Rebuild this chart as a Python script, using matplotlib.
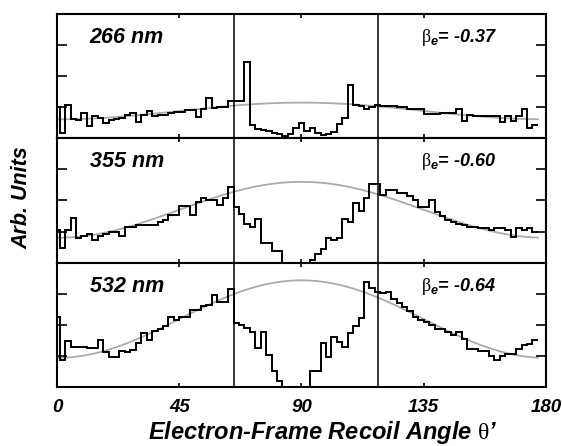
import numpy as np
import matplotlib
matplotlib.use("Agg")
import matplotlib.pyplot as plt

# three panels of photofragment recoil-angle histograms (2 deg bins centred on 0,2,...,176)
wavelengths = ["266 nm", "355 nm", "532 nm"]
betas = [-0.37, -0.60, -0.64]
fit_amp = [0.97, 2.0, 2.6]
cut_angles = [65, 118]
tick_vals = [0, 45, 90, 135, 180]
tick_labels = ["0", "45", "90", "135", "180"]

counts_266 = [1.00, 0.17, 1.06, 0.61, 0.60, 0.80, 0.39, 0.72, 0.65, 0.50, 0.60, 0.62,
              0.66, 0.76, 0.82, 0.52, 0.76, 0.88, 0.73, 0.74, 0.76, 0.80, 0.84, 0.84,
              0.90, 0.92, 0.70, 0.95, 1.29, 0.97, 1.00, 1.00, 1.20, 1.20, 1.20,
              2.47, 0.44, 0.30, 0.28, 0.25, 0.18, 0.15, 0.07, 0.15, 0.33, 0.50, 0.23,
              0.33, 0.17, 0.10, 0.15, 0.20, 0.45, 0.66, 1.72,
              1.06, 1.04, 0.93, 1.02, 1.08, 1.05, 1.04, 1.04, 1.02, 1.02, 0.95, 0.95,
              0.95, 0.77, 0.77, 0.77, 0.80, 0.82, 0.82, 0.93, 0.55, 0.74, 0.72, 0.72,
              0.72, 0.72, 0.72, 0.52, 0.72, 0.55, 0.72, 0.93, 0.34, 0.44]

counts_355 = [1.04, 0.48, 1.04, 1.45, 0.80, 0.85, 0.92, 0.72, 0.85, 0.93, 0.98, 1.00,
              0.85, 1.15, 1.15, 1.20, 1.20, 1.20, 1.22, 1.30, 1.37, 1.53, 1.53, 1.82,
              1.82, 1.53, 1.96, 2.07, 2.02, 2.02, 1.85, 2.07, 2.42,
              1.80, 1.58, 1.24, 1.15, 1.42, 0.64, 0.64, 0.37, 0.37, 0.0, 0.0, 0.0,
              0.0, 0.0, 0.10,
              0.28, 0.45, 0.80, 0.74, 0.80, 1.42, 1.31, 1.93, 1.67, 2.07, 2.54, 2.54,
              2.18, 2.34, 2.34, 2.23, 2.23, 2.15, 2.00, 1.80, 1.78, 2.00, 1.64, 1.50,
              1.37, 1.30, 1.25, 1.22, 1.15, 1.15, 1.12, 1.10, 1.05, 1.12, 1.10, 1.05,
              0.82, 1.12, 1.05, 1.12, 0.98]

counts_532 = [2.26, 0.88, 1.49, 1.28, 1.28, 1.28, 1.26, 1.26, 1.52, 1.14, 0.96, 0.96,
              1.15, 1.12, 1.20, 1.40, 1.75, 1.50, 1.80, 1.85, 1.96, 2.26, 2.14, 2.26,
              2.26, 2.48, 2.48, 2.60, 2.64, 2.96, 2.75, 2.75, 3.14,
              2.05, 2.00, 1.89, 1.78, 1.25, 1.78, 1.04, 0.50, 0.18, 0.0, 0.0, 0.0,
              0.0, 0.0, 0.50, 0.50, 1.43, 0.98, 1.60, 1.46, 1.30, 1.73, 1.96, 2.21,
              3.38, 3.20,
              3.06, 3.01, 3.05, 2.82, 2.70, 2.56, 2.45, 2.26, 2.15, 2.10, 2.00, 1.86,
              1.86, 1.78, 1.68, 1.78, 1.53, 1.22, 1.22, 1.15, 1.15, 1.00, 0.88, 1.00,
              1.07, 1.07, 1.22, 1.34, 1.39, 1.52]

all_counts = [counts_266, counts_355, counts_532]
bin_edges = np.arange(-1, 179, 2)

plt.rcParams['mathtext.fontset'] = 'custom'
plt.rcParams['mathtext.rm'] = 'Liberation Serif'
plt.rcParams['mathtext.it'] = 'Liberation Sans:bold:italic'
bold_font = ['Liberation Sans', 'DejaVu Sans']

fig, axes = plt.subplots(3, 1, sharex=True, figsize=(5.62, 4.46), dpi=100)
fig.subplots_adjust(left=0.1014, right=0.9715, top=0.9686, bottom=0.1323, hspace=0)

for ax, lab, beta, amp, counts in zip(axes, wavelengths, betas, fit_amp, all_counts):
    # fitted anisotropy curve  I ~ 1 + beta P2(cos theta)
    th = np.linspace(0, 177, 300)
    c = np.cos(np.radians(th))
    ax.plot(th, amp * (1 + beta * 0.5 * (3 * c**2 - 1)), color='#ababab', lw=1.3, zorder=1)
    ax.stairs(counts, bin_edges, baseline=None, color='black', lw=1.4, zorder=2)
    for a in cut_angles:
        ax.axvline(a, color='black', lw=1.1, zorder=3)

    ax.set_xlim(0, 180)
    ax.set_ylim(0, 4)
    ax.set_yticks([1, 2, 3])
    ax.set_yticklabels([])
    ax.set_xticks(tick_vals)
    ax.tick_params(axis='y', direction='in', length=7, width=1.2, left=True, right=True)
    ax.tick_params(axis='x', direction='in', length=3, width=1.2, top=True, bottom=True)
    for sp in ax.spines.values():
        sp.set_linewidth(1.5)

    ax.text(0.067, 0.81, lab, transform=ax.transAxes, fontsize=15.5, fontweight='bold',
            fontstyle='italic', family=bold_font, va='center', ha='left')
    ax.text(0.745, 0.81, r'$\mathrm{\beta}_{\mathit{e}}$= %.2f' % beta, transform=ax.transAxes,
            fontsize=13, fontweight='bold', fontstyle='italic', family=bold_font,
            va='center', ha='left')

axes[2].set_xticklabels(tick_labels, fontsize=13.5, fontweight='bold', fontstyle='italic',
                        family=bold_font)
axes[2].tick_params(axis='x', pad=9)

fig.text(0.039, 0.557, "Arb. Units", rotation=90, fontsize=15.5, fontweight='bold',
         fontstyle='italic', family=bold_font, va='center', ha='center')
fig.text(0.575, 0.031, r"Electron-Frame Recoil Angle $\mathrm{\theta}$’", fontsize=17,
         fontweight='bold', fontstyle='italic', family=bold_font, va='center', ha='center')

fig.savefig("out.png", dpi=100)
